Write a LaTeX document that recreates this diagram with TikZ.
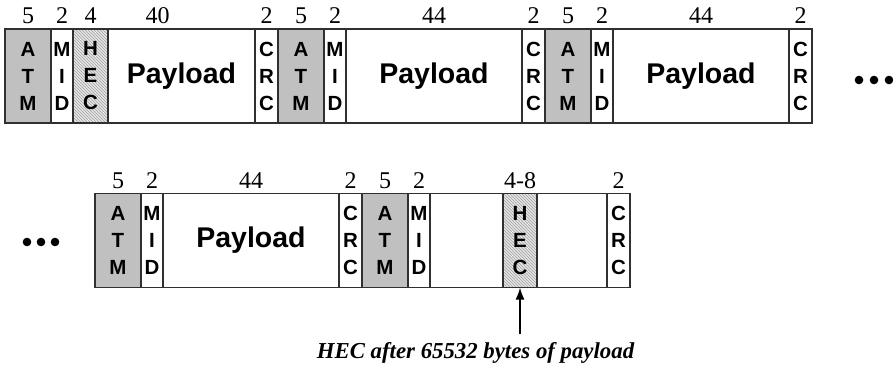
\documentclass[tikz,border=0pt]{standalone}
\usepackage{fontspec}
\setmainfont{Liberation Serif}
\setsansfont{Liberation Sans}
\usetikzlibrary{arrows.meta,positioning,patterns}
\definecolor{Edge}{HTML}{303030}
\definecolor{Cell}{HTML}{C0C0C0}
\definecolor{Hatch}{HTML}{E6E6E6}
\definecolor{HatchLine}{HTML}{A0A0A0}

\begin{document}
\begin{tikzpicture}[
  x=1pt,y=-1pt,
  field/.style={draw=Edge,line width=1.2pt,outer sep=0pt,inner sep=0pt,minimum height=94pt,align=center,font=\sffamily\bfseries\fontsize{20.5}{27}\selectfont},
  atm/.style={field,fill=Cell,minimum width=46pt},
  mid/.style={field,fill=white,minimum width=22pt},
  crc/.style={field,fill=white,minimum width=23pt},
  hec/.style={field,preaction={fill=Hatch},pattern=north west lines,pattern color=HatchLine,minimum width=35pt},
  pay/.style={field,fill=white,minimum width=176pt,font=\sffamily\bfseries\fontsize{28.5}{30}\selectfont},
  num/.style={font=\fontsize{24}{24}\selectfont,inner sep=0pt,label distance=5pt},
  arrow/.style={-{Latex[length=12pt,width=9pt]},line width=1.8pt}
]
\useasboundingbox (0,0) rectangle (893,368);

% first row of cells
\node[atm,anchor=west,label={[num]above:5}] (atm1) at (5,76) {A\\T\\M};
\node[mid,right=0pt of atm1,label={[num]above:2}] (mid1) {M\\I\\D};
\node[hec,right=0pt of mid1,label={[num]above:4}] (hec1) {H\\E\\C};
\node[pay,minimum width=147pt,right=0pt of hec1,label={[num,xshift=-24pt]above:40}] (pay1) {Payload};
\node[crc,right=0pt of pay1,label={[num]above:2}] (crc1) {C\\R\\C};
\node[atm,right=0pt of crc1,label={[num]above:5}] (atm2) {A\\T\\M};
\node[mid,right=0pt of atm2,label={[num]above:2}] (mid2) {M\\I\\D};
\node[pay,right=0pt of mid2,label={[num]above:44}] (pay2) {Payload};
\node[crc,right=0pt of pay2,label={[num]above:2}] (crc2) {C\\R\\C};
\node[atm,right=0pt of crc2,label={[num]above:5}] (atm3) {A\\T\\M};
\node[mid,right=0pt of atm3,label={[num]above:2}] (mid3) {M\\I\\D};
\node[pay,right=0pt of mid3,label={[num]above:44}] (pay3) {Payload};
\node[crc,right=0pt of pay3,label={[num]above:2}] (crc3) {C\\R\\C};
\foreach \x in {859,874,889} \fill (\x,80) circle (4.3pt);

% second row of cells
\node[atm,anchor=west,label={[num]above:5}] (atm4) at (95,240.5) {A\\T\\M};
\node[mid,right=0pt of atm4,label={[num]above:2}] (mid4) {M\\I\\D};
\node[pay,right=0pt of mid4,label={[num]above:44}] (pay4) {Payload};
\node[crc,right=0pt of pay4,label={[num]above:2}] (crc4) {C\\R\\C};
\node[atm,right=0pt of crc4,label={[num]above:5}] (atm5) {A\\T\\M};
\node[mid,right=0pt of atm5,label={[num]above:2}] (mid5) {M\\I\\D};
\node[pay,minimum width=73pt,right=0pt of mid5] (gap1) {};
\node[hec,minimum width=34pt,right=0pt of gap1,label={[num]above:4-8}] (hec2) {H\\E\\C};
\node[pay,minimum width=70pt,right=0pt of hec2] (gap2) {};
\node[crc,right=0pt of gap2,label={[num]above:2}] (crc5) {C\\R\\C};
\foreach \x in {27,41,55} \fill (\x,242) circle (4.3pt);

\node[font=\bfseries\itshape\fontsize{22.8}{22.8}\selectfont,inner xsep=0pt,inner ysep=8pt] (note) at (475.5,353) {HEC after 65532 bytes of payload};
\draw[arrow] (note.north -| hec2.south) -- (hec2.south);
\end{tikzpicture}
\end{document}
